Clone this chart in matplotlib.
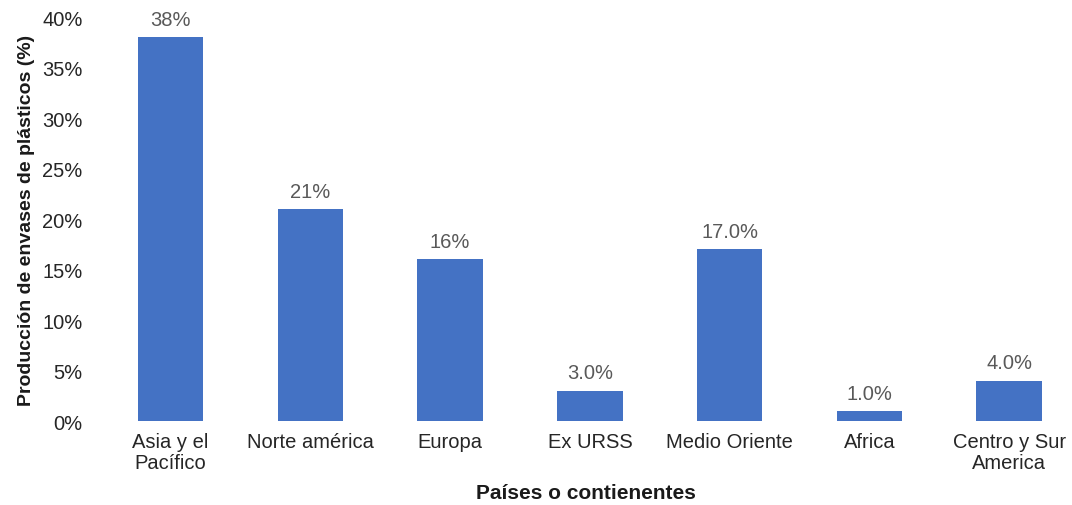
import matplotlib.pyplot as plt
from matplotlib.ticker import PercentFormatter

plt.rcParams['font.family'] = ['Liberation Sans', 'DejaVu Sans']

# producción de envases de plástico por región
regiones = ['Asia y el\nPacífico', 'Norte américa', 'Europa', 'Ex URSS',
            'Medio Oriente', 'Africa', 'Centro y Sur\nAmerica']
valores = [38, 21, 16, 3.0, 17.0, 1.0, 4.0]
etiquetas = ['38%', '21%', '16%', '3.0%', '17.0%', '1.0%', '4.0%']

fig = plt.figure(figsize=(10.72, 5.06), dpi=100)
ax = fig.add_axes([0.094, 0.166, 0.906, 0.798])

x = range(len(regiones))
bars = ax.bar(x, valores, width=0.47, color='#4472C4')

for b, txt in zip(bars, etiquetas):
    ax.annotate(txt, (b.get_x() + b.get_width() / 2, b.get_height()),
                xytext=(0, 6), textcoords='offset points',
                ha='center', va='bottom', fontsize=14.5, color='#595959')

ax.set_xlim(-0.5, 6.45)
ax.set_ylim(0, 40)
ax.set_yticks(range(0, 41, 5))
ax.yaxis.set_major_formatter(PercentFormatter(decimals=0))
ax.set_xticks(list(x))
ax.set_xticklabels(regiones, linespacing=1.15)
ax.tick_params(axis='both', length=0, labelsize=14.5, colors='#262626')
ax.tick_params(axis='y', pad=13)
ax.tick_params(axis='x', pad=8)

for s in ax.spines.values():
    s.set_visible(False)

ax.set_ylabel('Producción de envases de plásticos (%)', fontsize=14,
              fontweight='bold', color='#1a1a1a', labelpad=5)
ax.set_xlabel('Países o contienentes', fontsize=15, fontweight='bold',
              color='#1a1a1a', labelpad=8)

fig.savefig('out.png', dpi=100)
